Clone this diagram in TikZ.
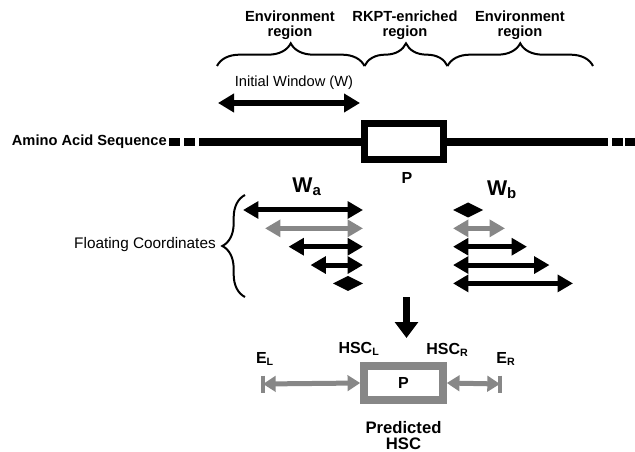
\documentclass[tikz,border=0pt]{standalone}
\usepackage{fontspec}
\setmainfont{Liberation Sans}
\usetikzlibrary{arrows.meta,decorations.pathreplacing}
\definecolor{grau}{RGB}{135,135,135}

\begin{document}
\begin{tikzpicture}[x=0.75pt,y=-0.75pt,
	>={Triangle[length=11.5pt,width=12.5pt]},
	lbl/.style={font=\bfseries\fontsize{11}{11.5}\selectfont,align=center,inner sep=0pt},
	klammer/.style={decorate,decoration={brace,amplitude=17pt},line width=1.5pt},
	pfeil/.style={<->,line width=3.75pt},
	graupfeil/.style={{Triangle[length=9.5pt,width=11.5pt]}-{Triangle[length=9.5pt,width=11.5pt]},line width=3.75pt,grau},
	sequenz/.style={line width=6pt},
	fett/.style={font=\bfseries\fontsize{12}{14}\selectfont,inner sep=0pt}]
\def\raute#1{\fill (#1) +(-15,0) -- +(0,-7.5) -- +(15,0) -- +(0,7.5) -- cycle;}
\useasboundingbox (0,0) rectangle (635,452);
% regions
\node[lbl] (envl) at (290,25.5) {Environment\\region};
\node[lbl] (rkpt) at (405,25.5) {RKPT-enriched\\region};
\node[lbl] (envr) at (520,25.5) {Environment\\region};
\coordinate (b0) at (217,66);
\coordinate (b1) at (364.5,66);
\coordinate (b2) at (447.5,66);
\coordinate (b3) at (593,66);
\draw[klammer] (b0) -- (b1);
\draw[klammer] (b1) -- (b2);
\draw[klammer] (b2) -- (b3);
% initial window
\node[font=\fontsize{11}{13}\selectfont,inner sep=0pt] (initw) at (294,83) {Initial Window (W)};
\coordinate (wl) at (218,103);
\coordinate (wr) at (360,103);
\draw[pfeil,line width=4pt,>={Triangle[length=12pt,width=13.5pt]}] (wl) -- (wr);
% sequence
\node[font=\bfseries\fontsize{11}{13}\selectfont,anchor=east,inner sep=0pt] (aas) at (167,141.5) {Amino Acid Sequence};
\node[draw,line width=5.25pt,minimum width=59.25pt,minimum height=27pt,inner sep=0pt] (pbox) at (404,142) {};
\coordinate (seql) at (199,142);
\coordinate (seqr) at (608,142);
\draw[sequenz] (seql) -- (pbox.west) (pbox.east) -- (seqr);
\foreach \a in {169,184,612,625}
	\fill (\a,138) rectangle +(11,8);
\node[fett] (plbl) at (407,178) {P};
% floating windows
\node[font=\bfseries\fontsize{16}{18}\selectfont,inner sep=0pt] (wa) at (307,187) {W\textsubscript{a}};
\node[font=\bfseries\fontsize{16}{18}\selectfont,inner sep=0pt] (wb) at (502,190) {W\textsubscript{b}};
\node[font=\fontsize{11.5}{13}\selectfont,anchor=east,inner sep=0pt] (float) at (216,245) {Floating Coordinates};
\coordinate (f0) at (245,297);
\coordinate (f1) at (245,195);
\draw[klammer] (f0) -- (f1);
\foreach \a/\f [count=\i from 0] in {243/black,265/grau,288.5/black,310.5/black}
	\draw[pfeil,\f] (\a,{210+18.35*\i}) -- (363,{210+18.35*\i});
\coordinate (rautea) at (348,283.4);
\coordinate (rauteb) at (468,210);
\raute{rautea}
\raute{rauteb}
\foreach \e/\f [count=\i] in {505/grau,527/black,549.5/black,573/black}
	\draw[pfeil,\f] (453,{210+18.35*\i}) -- (\e,{210+18.35*\i});
% prediction
\coordinate (dtop) at (406.5,297);
\coordinate (dtip) at (406.5,338);
\draw[-{Triangle[length=12pt,width=17pt]},line width=5pt] (dtop) -- (dtip);
\node[draw=grau,line width=6pt,minimum width=58.9pt,minimum height=25pt,fett] (hsc) at (403.5,383) {P};
\node[fett] (hscl) at (359,349) {HSC\textsubscript{L}};
\node[fett] (hscr) at (447.5,350) {HSC\textsubscript{R}};
\node[fett] (el) at (265,359) {E\textsubscript{L}};
\node[fett] (er) at (506,359) {E\textsubscript{R}};
\coordinate (elt) at (263,384);
\coordinate (ert) at (500,384);
\draw[graupfeil] (elt) -- (hsc.west);
\draw[graupfeil] (hsc.east) -- (ert);
\draw[grau,line width=2.6pt] (elt) ++(0,-8.5) -- ++(0,17);
\draw[grau,line width=2.6pt] (ert) ++(0,-8.5) -- ++(0,17);
\node[font=\bfseries\fontsize{12.5}{12.5}\selectfont,align=center,inner sep=0pt] (pred) at (403.5,435.5) {Predicted\\HSC};
\end{tikzpicture}
\end{document}
